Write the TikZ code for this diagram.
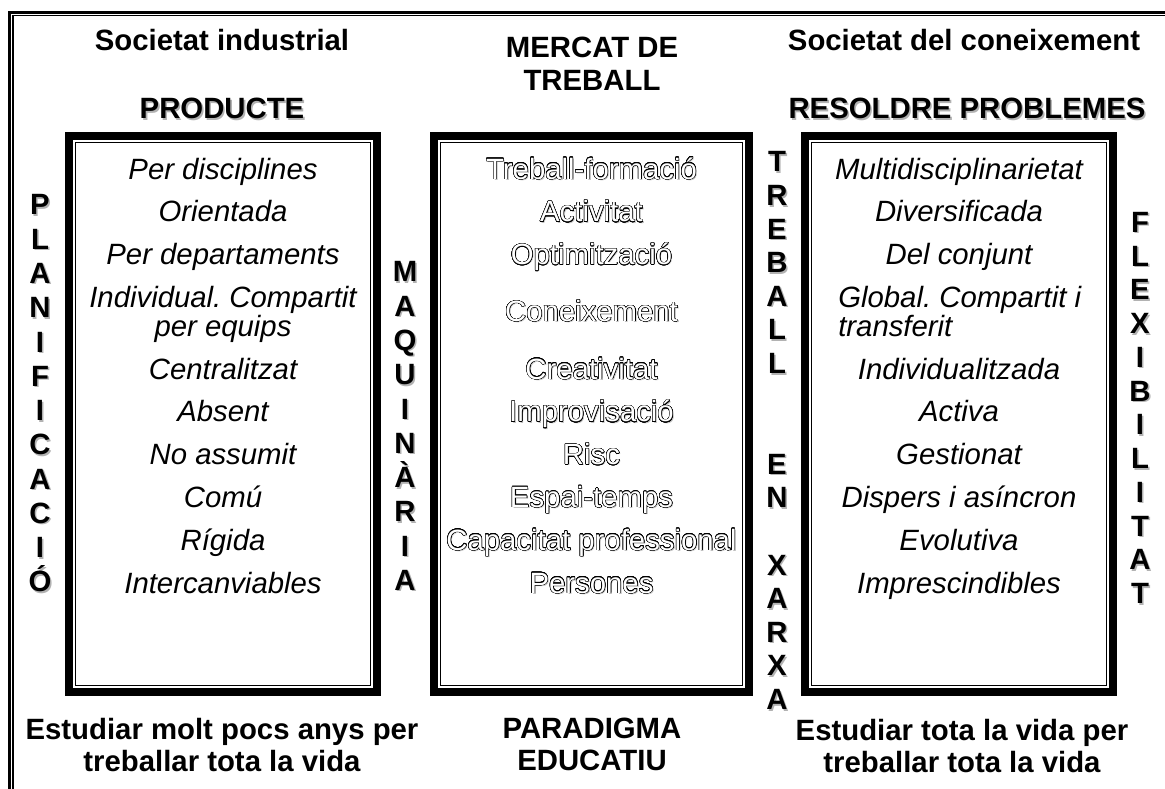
\documentclass[tikz,border=0pt]{standalone}
\usepackage{fontspec}
\setmainfont{Liberation Sans}
\usepackage{contour}
\contourlength{0.35pt}
\contournumber{24}
\frenchspacing

% gray drop shadow behind a word
\newcommand{\shd}[1]{\makebox[0pt][l]{\hspace{1.2pt}\raisebox{-1.2pt}{\textcolor{black!30}{#1}}}#1}
% white letters with black outline and shadow
\newcommand{\hollow}[1]{\makebox[0pt][l]{\hspace{1pt}\raisebox{-1pt}{\textcolor{black!25}{#1}}}\contour{black}{\textcolor{white}{#1}}}
% vertical word, letter under letter
\newcommand{\vword}[5]{%
  \node[vletters,text=black!30,font=\bfseries\fontsize{22}{#4}\selectfont] at (#2+1.5,#3+1.5) {#5};
  \node[vletters,font=\bfseries\fontsize{22}{#4}\selectfont] (#1) at (#2,#3) {#5};}

\begin{document}
\begin{tikzpicture}[x=0.75pt,y=-0.75pt,
  head/.style={font=\bfseries\fontsize{22}{24}\selectfont,align=center,inner sep=0pt},
  entry/.style={font=\itshape\fontsize{22}{24}\selectfont,inner sep=0pt,anchor=base},
  midentry/.style={font=\fontsize{22}{24}\selectfont,inner sep=0pt,anchor=base},
  vletters/.style={align=center,inner sep=0pt,anchor=north},
  boxline/.style={line width=6pt},
  thinline/.style={line width=1.1pt}]
\useasboundingbox (0,0) rectangle (1165,789);

% page frame
\draw[line width=2.25pt] (9.5,789) -- (9.5,12) -- (1165,12);
\draw[line width=0.9pt] (13,789) -- (13,15.5) -- (1165,15.5);

% the three boxes
\draw[boxline] (69,136) rectangle (377,692);
\draw[thinline] (75.5,142.5) rectangle (370.5,685.5);
\draw[boxline] (434,136) rectangle (749,692);
\draw[thinline] (440.5,142.5) rectangle (742.5,685.5);
\draw[boxline] (805,136) rectangle (1113,692);
\draw[thinline] (811.5,142.5) rectangle (1106.5,685.5);

% headings
\node[head,anchor=base] (socind) at (222,50.5) {Societat industrial};
\node[head,anchor=base] (producte) at (222,118.5) {\shd{PRODUCTE}};
\node[head,anchor=north,font=\bfseries\fontsize{22}{24.75}\selectfont] (mercat) at (592,37) {MERCAT DE\\TREBALL};
\node[head,anchor=base] (soccon) at (964,50.5) {Societat del coneixement};
\node[head,anchor=base] (resoldre) at (967,118.5) {\shd{RESOLDRE PROBLEMES}};

% vertical words
\vword{planif}{40}{194.5}{25.7}{P\\L\\A\\N\\I\\F\\I\\C\\A\\C\\I\\Ó}
\vword{maquin}{405}{261.5}{25.7}{M\\A\\Q\\U\\I\\N\\À\\R\\I\\A}
\vword{xarxa}{777}{151.5}{25.2}{T\\R\\E\\B\\A\\L\\L\\~\\~\\E\\N\\~\\X\\A\\R\\X\\A}
\vword{flexib}{1140}{212}{25.3}{F\\L\\E\\X\\I\\B\\I\\L\\I\\T\\A\\T}

% left box
\node[entry] (l1) at (223,179) {Per disciplines};
\node[entry] (l2) at (223,221.8) {Orientada};
\node[entry] (l3) at (223,264.6) {Per departaments};
\node[entry] (l4a) at (223,307.4) {Individual. Compartit};
\node[entry] (l4b) at (223,336.4) {per equips};
\node[entry] (l5) at (223,379) {Centralitzat};
\node[entry] (l6) at (223,421.8) {Absent};
\node[entry] (l7) at (223,464.6) {No assumit};
\node[entry] (l8) at (223,507.4) {Comú};
\node[entry] (l9) at (223,550.2) {Rígida};
\node[entry] (l10) at (223,593) {Intercanviables};

% middle box
\node[midentry] (m1) at (591.5,179) {\hollow{Treball-formació}};
\node[midentry] (m2) at (591.5,221.8) {\hollow{Activitat}};
\node[midentry] (m3) at (591.5,264.6) {\hollow{Optimització}};
\node[midentry] (m4) at (591.5,321.5) {\hollow{Coneixement}};
\node[midentry] (m5) at (591.5,379) {\hollow{Creativitat}};
\node[midentry] (m6) at (591.5,421.8) {\hollow{Improvisació}};
\node[midentry] (m7) at (591.5,464.6) {\hollow{Risc}};
\node[midentry] (m8) at (591.5,507.4) {\hollow{Espai-temps}};
\node[midentry] (m9) at (591.5,550.2) {\hollow{Capacitat professional}};
\node[midentry] (m10) at (591.5,593) {\hollow{Persones}};

% right box
\node[entry] (r1) at (959,179) {Multidisciplinarietat};
\node[entry] (r2) at (959,221.8) {Diversificada};
\node[entry] (r3) at (959,264.6) {Del conjunt};
\node[entry,anchor=base west] (r4a) at (838,307.4) {Global. Compartit i};
\node[entry,anchor=base west] (r4b) at (838,336.4) {transferit};
\node[entry] (r5) at (959,379) {Individualitzada};
\node[entry] (r6) at (959,421.8) {Activa};
\node[entry] (r7) at (959,464.6) {Gestionat};
\node[entry] (r8) at (959,507.4) {Dispers i asíncron};
\node[entry] (r9) at (959,550.2) {Evolutiva};
\node[entry] (r10) at (959,593) {Imprescindibles};

% bottom lines
\node[head,anchor=north] (estind) at (222,717.5) {Estudiar molt pocs anys per\\treballar tota la vida};
\node[head,anchor=north] (paradigma) at (592,717.5) {PARADIGMA\\EDUCATIU};
\node[head,anchor=north] (estcon) at (962,719) {Estudiar tota la vida per\\treballar tota la vida};
\end{tikzpicture}
\end{document}
